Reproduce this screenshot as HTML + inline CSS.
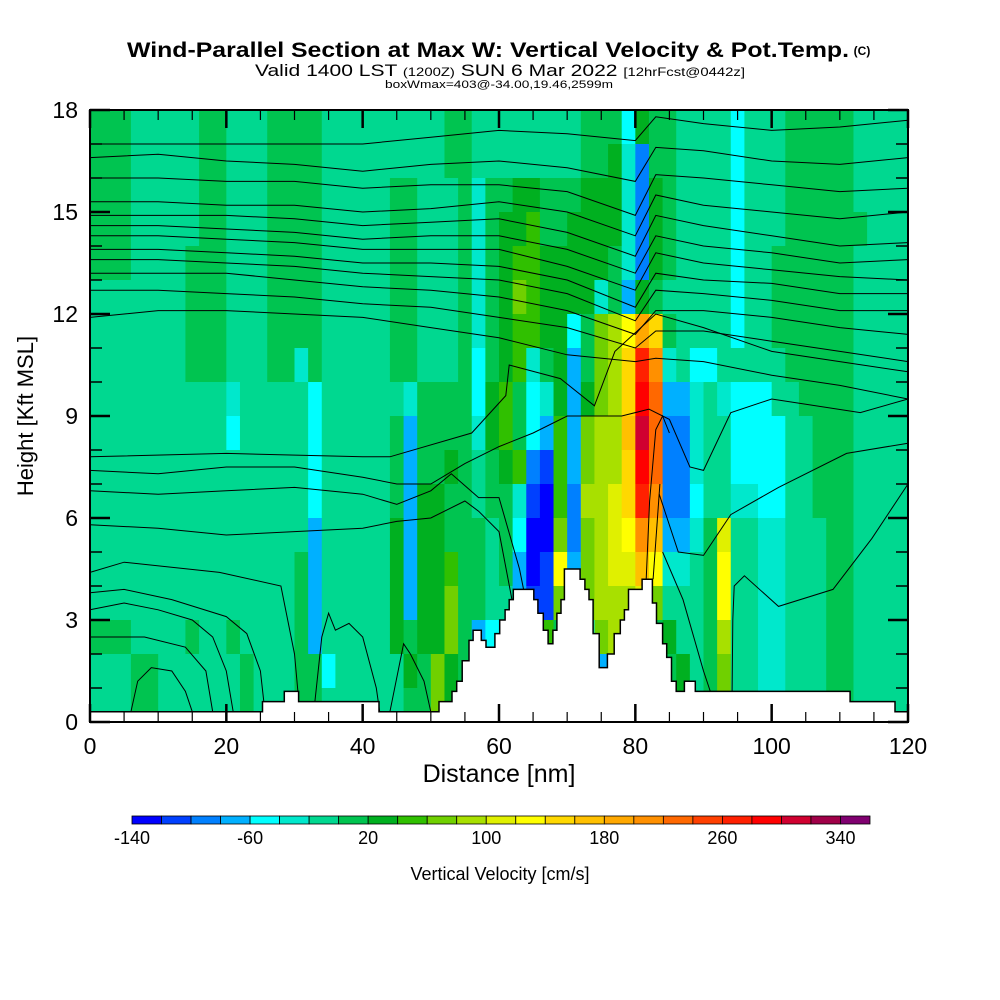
<!DOCTYPE html>
<html><head><meta charset="utf-8"><style>
html,body{margin:0;padding:0;background:#fff;}
svg{display:block;font-family:"Liberation Sans Narrow","Liberation Sans",sans-serif;}
</style></head><body>
<svg id="chart" width="1000" height="1000" viewBox="0 0 1000 1000">
<g id="title">
<text x="488" y="57" text-anchor="middle" font-size="21" font-weight="bold" textLength="722" lengthAdjust="spacingAndGlyphs">Wind-Parallel Section at Max W: Vertical Velocity &amp; Pot.Temp.</text>
<text x="862" y="55" text-anchor="middle" font-size="12" font-weight="bold">(C)</text>
<text x="500" y="76" text-anchor="middle" font-size="17" textLength="490" lengthAdjust="spacingAndGlyphs">Valid 1400 LST <tspan font-size="12">(1200Z)</tspan> SUN 6 Mar 2022 <tspan font-size="12">[12hrFcst@0442z]</tspan></text>
<text x="499" y="88" text-anchor="middle" font-size="11" textLength="228" lengthAdjust="spacingAndGlyphs">boxWmax=403@-34.00,19.46,2599m</text>
</g>
<g id="cells"></g>
<g id="lines" fill="none" stroke="#000" stroke-width="1"></g>
<g id="terrain"></g>
<g id="axes"></g>
<g id="cbar"></g>
<text x="499" y="782" text-anchor="middle" font-size="25" font-family="Liberation Sans, sans-serif">Distance [nm]</text>
<text transform="translate(33,416) rotate(-90)" text-anchor="middle" font-size="22" font-family="Liberation Sans, sans-serif">Height [Kft MSL]</text>
<text x="500" y="880" text-anchor="middle" font-size="18">Vertical Velocity [cm/s]</text>
</svg>
<script>
// ---- data ----
const levelColors = ["#0000ff","#0040ff","#0080ff","#00b0ff","#00ffff","#00e8cc","#00d890","#00c450","#00b020","#30c000","#70d000","#a8e000","#e0f000","#ffff00","#ffd800","#ffc000","#ffa800","#ff9000","#ff6800","#ff4000","#ff2000","#ff0000","#d00030","#a00048","#800070"];
const levelLabels = [-140,-60,20,100,180,260,340];
const xTicks = [0,20,40,60,80,100,120];
const yTicks = [0,3,6,9,12,15,18];
// velocity grid: rows top (17-18 kft) to bottom (0-1 kft), 60 columns of 2 nm, run-length coded (a=-140 ... y=340 bins)
const velocityRows = [
"h3g5h2g3h4g9h2g8h3e1i1h2g4e1g3h5g4",
"h3g5h2g3h4g9h2g8h2i1f1c1h2g4e1g3h5g4",
"h3g5h2g3h4g5h2g3h1f1h2i2h3i2i1f1c1i1h1g4e1g3h5g4",
"h3g5h2g3h4g5h2g3h1f1h1i2j1h2i3i1f1c1i1h1g4e1g3h6g3",
"h3g4h3g3h4g5h2g3h1f1h1i1j2i2i3h1f1c1i1h1g4e1g2h6g4",
"g3g4h3g3h4g5h2g3h1f1h1i1k1j1i2i2f1h1d1i1h1g5e1g2h6g4",
"g7h3g3h4g5h2g3h1f1h1i1j2i2e1h1k1l1n1q1o1h1g4e1g2h6g4",
"g7h3g3h2f1h1g5h2g3h1e1h1i1j1f1h1i1d1h1k1l1o1u1r1f1g1e2g5h5g4",
"g10f1g5e1g6f1h3h1e1i1j1h1e1f1i1d1i1k1l1o1v1s1d2f1g1f1e3g2h4g4",
"g10e1g5e1g5h1d1h3h1f1i1j1h1e1d1j1d1k1l1l1p1w1s1c2f1g2e4g2h3g4",
"g10g6e1g5h1d1h2i1h1g1h1i1j1c1b1j1d1k1l1l1o1v1s1c2f1g2e4g2h3g4",
"g10g6e1g5h1d1i2h1h1g1h1h1f1b1a1j1c1l1l1m1o1u1r1c2e1g2f2e2g2h3g4",
"g10g6d1g5i1d1i2h1h1h1g1h1e1a1a1k1c1k1l1m1n1r1p1d2f1h1m1g2f2g3h2g4",
"g10g5h1d1g5i1d1i2j1h1h1g1h1d1a1b1n1d1k1l1m1m1p1n1f2g1h1n1g2f2g3h2g4",
"g10g5h1d1g5i1d1i2k1h1h1g1g1d1b1b1k1c1k1l1l1l1m1k1g2g1h1n1g2f2g3h2g4",
"h3g4h1g2h1g4h1d1g5i1h1i2k1h1d1e1d1c1c1j1h1d1e1k1l1k1j1h1i1g2h1l1g2f2g3h2g4",
"g3h2g4g2h1g3h2e1g5i1h1k1i1h1h1h1g1g1f1g1h1g1h1d1e1k1k1j1h1i1g1h1k1g2f2g3h2g4",
"g3h2g4g2h1g3h2g1g5h2k1i1h1h1g9h1k1k1j1h1i1g1h1k1g2f2g3h2g4"
];
// terrain: step start distance (nm) and height (kft)
const terrainX = [0,25.3,28.5,30.6,42.4,51.2,53.1,53.8,54.6,55.6,56.2,57.4,58.1,59.4,60.1,60.9,61.5,62.1,65.1,65.7,66.5,67.2,67.9,68.5,69.1,69.6,71.9,72.6,73.2,73.8,74.7,75.9,76.9,77.8,78.4,79.0,81.0,82.5,83.1,84.0,84.6,85.3,86.0,87.2,88.8,111.5,118.1,120];
const terrainH = [0.3,0.6,0.9,0.6,0.3,0.6,0.9,1.2,1.8,2.4,2.7,2.4,2.2,2.6,3.0,3.3,3.6,3.9,3.6,3.2,2.7,2.3,2.7,3.2,3.6,4.5,4.2,3.9,3.6,2.6,1.6,2.0,2.6,3.0,3.3,3.9,4.2,3.5,2.9,2.3,1.9,1.2,0.9,1.2,0.9,0.6,0.3,0.3];
// isentropes: distance samples (nm) for the upper family and their heights (kft)
const upperX = [0,10,20,30,40,50,60,70,80,83,90,100,110,120];
const upperLines = [
[17.0,17.0,17.0,17.0,17.0,17.2,17.4,17.3,17.1,17.8,17.6,17.4,17.5,17.7],
[16.6,16.7,16.5,16.4,16.2,16.4,16.5,16.3,15.9,16.9,16.8,16.5,16.4,16.6],
[16.0,16.0,15.9,15.9,15.7,15.8,15.8,15.6,14.9,16.1,16.0,15.8,15.6,15.7],
[15.3,15.3,15.2,15.2,15.0,15.1,15.3,15.0,14.3,15.5,15.2,15.0,14.8,15.0],
[14.9,14.9,14.9,14.8,14.6,14.7,14.8,14.4,13.7,14.9,14.6,14.3,14.0,14.1],
[14.6,14.6,14.5,14.4,14.2,14.3,14.3,13.9,13.2,14.3,14.0,13.8,13.5,13.6],
[14.3,14.3,14.2,14.1,13.9,13.9,13.9,13.4,12.7,13.8,13.5,13.3,13.1,13.0],
[13.9,13.9,13.8,13.7,13.5,13.5,13.4,13.0,12.2,13.2,13.0,12.9,12.6,12.6],
[13.6,13.6,13.5,13.4,13.2,13.1,13.0,12.6,11.8,12.7,12.6,12.4,12.1,12.1],
[13.2,13.2,13.2,13.0,12.8,12.7,12.5,12.1,11.4,12.1,12.1,11.9,11.6,11.4],
[12.7,12.7,12.6,12.5,12.3,12.2,11.9,11.6,11.0,11.5,11.5,11.2,10.9,10.6],
[11.9,12.1,12.1,12.0,11.9,11.6,11.3,10.8,10.6,10.7,10.6,10.2,9.9,9.5]
];
// lower isentropes as [distance nm, height kft] pairs
const lowerLines = [
[[0,7.8],[20,7.9],[40,7.8],[44,7.8],[56,8.5],[61,9.6],[61.5,10.5],[69,10.1],[74,9.3],[77,10.9],[83,12.0],[90,11.6],[100,10.9],[110,10.6],[120,10.3]],
[[0,7.4],[10,7.3],[20,7.5],[30,7.5],[40,7.2],[45,7.0],[50,7.0],[55,7.6],[60,8.1],[65,8.5],[70,9.0],[78,9.0],[82,9.2],[85,8.9],[88,7.5],[90,7.4],[94,9.1],[100,9.5],[113,9.1],[120,9.5]],
[[0,6.8],[10,6.7],[20,6.8],[30,6.9],[40,6.7],[45,6.4],[50,6.8],[53,7.3],[57,6.6],[60,6.6],[63,4.5],[64,3.5]],
[[0,5.8],[10,5.7],[20,5.5],[30,5.6],[40,5.7],[45,5.9],[50,6.0],[55,6.5],[57,6.2],[60,5.6],[62,3.5],[63,2.2]],
[[83.5,6.7],[86.3,5.0],[90,4.9],[94,6.1],[101,6.9],[111,7.9],[120,8.2]],
[[84,5.0],[87,3.6],[90,1.5],[91,0.9]],
[[94.2,0.9],[94.3,3.0],[94.5,4.0],[96,4.3],[101,3.4],[109,3.9],[114.7,5.4],[120,7.0]],
[[81.6,4.2],[82.1,6.5],[83,8.6],[84,9.0],[85,8.5]],
[[82.6,4.2],[83.6,7.0]],
[[0,4.4],[5,4.7],[19,4.4],[28,4.0],[30,2.0],[30.5,0.9]],
[[0,3.8],[5,3.9],[12,3.6],[20,3.1],[23,2.6],[25,1.5],[25.5,0.6]],
[[0,3.3],[5,3.5],[10,3.3],[15,3.0],[18,2.5],[20,1.5],[21,0.3]],
[[0,2.5],[8,2.5],[14,2.2],[17,1.5],[18,0.3]],
[[6,0.3],[7,1.2],[9,1.6],[12,1.5],[14,0.9],[15,0.3]],
[[33,0.6],[34,2.5],[35,3.2],[36,2.7],[38,2.9],[40,2.5],[42,1.0],[42.5,0.3]],
[[44,0.3],[46,2.3],[47,2.0],[49,1.2],[50,0.3]]
];
// ---- scales ----
const NS="http://www.w3.org/2000/svg";
const X0=90,X1=908,Y0=722,Y1=110;
function xs(nm){return X0+nm*(X1-X0)/120;}
function ys(k){return Y0-k*(Y0-Y1)/18;}
function mk(tag,attrs,parent){const e=document.createElementNS(NS,tag);for(const k in attrs)e.setAttribute(k,attrs[k]);parent.appendChild(e);return e;}
function decode(s){const out=[];const re=/([a-y])(\d+)/g;let m;while((m=re.exec(s))){for(let i=0;i<+m[2];i++)out.push(m[1].charCodeAt(0)-97);}while(out.length<60)out.push(out[out.length-1]);return out;}
// cells
const cellsG=document.getElementById('cells');
velocityRows.forEach((row,r)=>{
  const vals=decode(row);
  const kTop=18-r;
  vals.forEach((v,c)=>{
    if(c>=60)return;
    const x=xs(c*2),x2=xs(c*2+2);
    const rc=mk('rect',{x:x.toFixed(2),y:ys(kTop).toFixed(2),width:(x2-x+0.6).toFixed(2),height:(ys(kTop-1)-ys(kTop)+0.6).toFixed(2),fill:levelColors[v]},cellsG);
    
    
  });
});
// contour lines
const linesG=document.getElementById('lines');
upperLines.forEach(arr=>{
  const d=arr.map((k,i)=>(i?'L':'M')+xs(upperX[i]).toFixed(1)+','+ys(k).toFixed(1)).join('');
  const p=mk('path',{d:d},linesG);
  
  
});
lowerLines.forEach(arr=>{
  const d=arr.map((pt,i)=>(i?'L':'M')+xs(pt[0]).toFixed(1)+','+ys(pt[1]).toFixed(1)).join('');
  const p=mk('path',{d:d},linesG);
  
  
});
// terrain
const terrG=document.getElementById('terrain');
let td='M'+xs(0)+','+ys(0);
for(let i=0;i<terrainX.length-1;i++){
  td+='L'+xs(terrainX[i]).toFixed(1)+','+ys(terrainH[i]).toFixed(1)+'L'+xs(terrainX[i+1]).toFixed(1)+','+ys(terrainH[i]).toFixed(1);
}
td+='L'+xs(120)+','+ys(0)+'Z';
const tp=mk('path',{d:td,fill:'#fff',stroke:'#000','stroke-width':1.5},terrG);


// axes
const ax=document.getElementById('axes');
const fr=mk('rect',{x:X0,y:Y1,width:X1-X0,height:Y0-Y1,fill:'none',stroke:'#000','stroke-width':2},ax);


for(let k=0;k<=18;k++){
  const y=ys(k),L=(k%3===0)?20:12;
  mk('line',{x1:X0,y1:y,x2:X0+L,y2:y,stroke:'#000','stroke-width':k%3===0?2.5:1.5},ax);
  mk('line',{x1:X1,y1:y,x2:X1-L,y2:y,stroke:'#000','stroke-width':k%3===0?2.5:1.5},ax);
}
for(let n=0;n<=120;n+=5){
  const x=xs(n),L=(n%20===0)?18:10;
  mk('line',{x1:x,y1:Y0,x2:x,y2:Y0-L,stroke:'#000','stroke-width':n%20===0?2.5:1.2},ax);
  mk('line',{x1:x,y1:Y1,x2:x,y2:Y1+L,stroke:'#000','stroke-width':n%20===0?2.5:1.2},ax);
}
yTicks.forEach(k=>{
  const t=mk('text',{x:78,y:ys(k)+8,'text-anchor':'end','font-size':23,'font-family':'Liberation Sans, sans-serif'},ax);
  t.textContent=k;
  
  
});
xTicks.forEach(n=>{
  const t=mk('text',{x:xs(n),y:754,'text-anchor':'middle','font-size':23,'font-family':'Liberation Sans, sans-serif'},ax);
  t.textContent=n;
  
  
});
// colorbar
const cb=document.getElementById('cbar');
const cbX0=132,cbX1=870,bw=(cbX1-cbX0)/levelColors.length;
levelColors.forEach((c,i)=>{
  const r=mk('rect',{x:(cbX0+i*bw).toFixed(2),y:816,width:bw.toFixed(2),height:8,fill:c,stroke:'#000','stroke-width':0.8},cb);
  
  
});
levelLabels.forEach(v=>{
  const i=(v+140)/20;
  const t=mk('text',{x:cbX0+i*bw,y:844,'text-anchor':'middle','font-size':18},cb);
  t.textContent=v;
  
  
});
</script>
</body></html>
